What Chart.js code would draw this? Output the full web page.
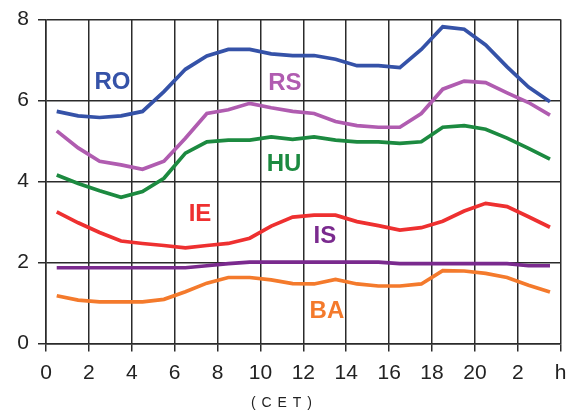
<!DOCTYPE html>
<html>
<head>
<meta charset="utf-8">
<script src="https://cdn.jsdelivr.net/npm/chart.js@4/dist/chart.umd.min.js"></script>
<style>
  body { margin: 0; background: #fff; }
</style>
</head>
<body>
<canvas id="graph" width="570" height="414"></canvas>
<script>
// hours (CET), one value per hour, plotted at the middle of the hour
const hours = [0.5, 1.5, 2.5, 3.5, 4.5, 5.5, 6.5, 7.5, 8.5, 9.5, 10.5, 11.5,
	12.5, 13.5, 14.5, 15.5, 16.5, 17.5, 18.5, 19.5, 20.5, 21.5, 22.5, 23.5];

const RO = [5.73, 5.62, 5.58, 5.62, 5.73, 6.22, 6.77, 7.1, 7.26, 7.26, 7.15, 7.11,
	7.11, 7.02, 6.86, 6.86, 6.81, 7.26, 7.82, 7.76, 7.37, 6.83, 6.33, 5.97];
const RS = [5.25, 4.83, 4.5, 4.41, 4.3, 4.5, 5.07, 5.68, 5.77, 5.93, 5.82, 5.73,
	5.68, 5.48, 5.38, 5.34, 5.34, 5.68, 6.28, 6.48, 6.44, 6.19, 5.95, 5.64];
const HU = [4.16, 3.95, 3.77, 3.61, 3.75, 4.08, 4.7, 4.98, 5.02, 5.02, 5.1, 5.04,
	5.1, 5.02, 4.98, 4.98, 4.94, 4.98, 5.34, 5.38, 5.29, 5.07, 4.82, 4.55];
const IE = [3.25, 2.98, 2.74, 2.53, 2.47, 2.42, 2.36, 2.42, 2.47, 2.6, 2.9, 3.12,
	3.17, 3.17, 3.01, 2.91, 2.8, 2.86, 3.02, 3.27, 3.46, 3.38, 3.13, 2.87];
const IS = [1.87, 1.87, 1.87, 1.87, 1.87, 1.87, 1.87, 1.92, 1.97, 2.01, 2.01, 2.01,
	2.01, 2.01, 2.01, 2.01, 1.97, 1.97, 1.97, 1.97, 1.97, 1.97, 1.92, 1.92];
const BA = [1.18, 1.07, 1.03, 1.03, 1.03, 1.09, 1.28, 1.49, 1.63, 1.63, 1.57, 1.48,
	1.47, 1.58, 1.47, 1.42, 1.42, 1.47, 1.8, 1.79, 1.73, 1.63, 1.44, 1.27];

// x tick labels as printed (22 is shown as "2", 24 as "h")
const xTickLabels = { 22: "2", 24: "h" };

const series = [
	{ name: "RO", values: RO, color: "#3552a8", at: [3.1, 6.44] },
	{ name: "RS", values: RS, color: "#b05cb0", at: [11.14, 6.43] },
	{ name: "HU", values: HU, color: "#1c8a40", at: [11.1, 4.43] },
	{ name: "IE", values: IE, color: "#ee3030", at: [7.18, 3.18] },
	{ name: "IS", values: IS, color: "#7a2a8e", at: [13.0, 2.65] },
	{ name: "BA", values: BA, color: "#f47a2c", at: [13.1, 0.79] },
];

const FONT = "'Liberation Sans', Arial, sans-serif";
const GRID = "#2b2b2b";

// write the country codes next to their lines, and the (CET) note under the axis
const seriesNames = {
	id: "seriesNames",
	afterDatasetsDraw(chart) {
		const { ctx, scales } = chart;
		ctx.save();
		ctx.font = "bold 24px " + FONT;
		ctx.textAlign = "center";
		ctx.textBaseline = "middle";
		series.forEach((s) => {
			ctx.fillStyle = s.color;
			ctx.fillText(s.name, scales.x.getPixelForValue(s.at[0]), scales.y.getPixelForValue(s.at[1]));
		});
		ctx.font = "14px " + FONT;
		ctx.fillStyle = "#222";
		ctx.letterSpacing = "1px";
		ctx.fillText("( C E T )", scales.x.getPixelForValue(11), 403);
		ctx.restore();
	},
};

const ctx = document.getElementById("graph").getContext("2d");
new Chart(ctx, {
	type: "line",
	data: {
		datasets: series.map((s) => ({
			label: s.name,
			data: hours.map((h, i) => ({ x: h, y: s.values[i] })),
			borderColor: s.color,
			borderWidth: 3.7,
			pointRadius: 0,
			tension: 0,
			fill: false,
		})),
	},
	options: {
		responsive: false,
		animation: false,
		layout: { padding: { top: 19.5, right: 9.3, left: 0, bottom: 0 } },
		plugins: { legend: { display: false }, tooltip: { enabled: false } },
		scales: {
			x: {
				type: "linear",
				min: 0,
				max: 24,
				afterFit: (scale) => {
					scale.height = 70.5;
					scale.paddingLeft = 0;
					scale.paddingRight = 0;
				},
				ticks: {
					stepSize: 2,
					autoSkip: false,
					maxRotation: 0,
					padding: 9,
					color: "#222",
					font: { family: FONT, size: 21 },
					callback: (v) => (xTickLabels[v] !== undefined ? xTickLabels[v] : v),
				},
				grid: { color: GRID, lineWidth: 1.5, tickLength: 8 },
				border: { color: GRID, width: 1.5 },
			},
			y: {
				min: 0,
				max: 8,
				afterFit: (scale) => {
					scale.width = 46;
					scale.paddingTop = 0;
					scale.paddingBottom = 0;
				},
				ticks: {
					stepSize: 2,
					padding: 9,
					color: "#222",
					font: { family: FONT, size: 21 },
				},
				grid: { color: GRID, lineWidth: 1.5, tickLength: 8 },
				border: { color: GRID, width: 1.5 },
			},
		},
	},
	plugins: [seriesNames],
});
</script>
</body>
</html>
